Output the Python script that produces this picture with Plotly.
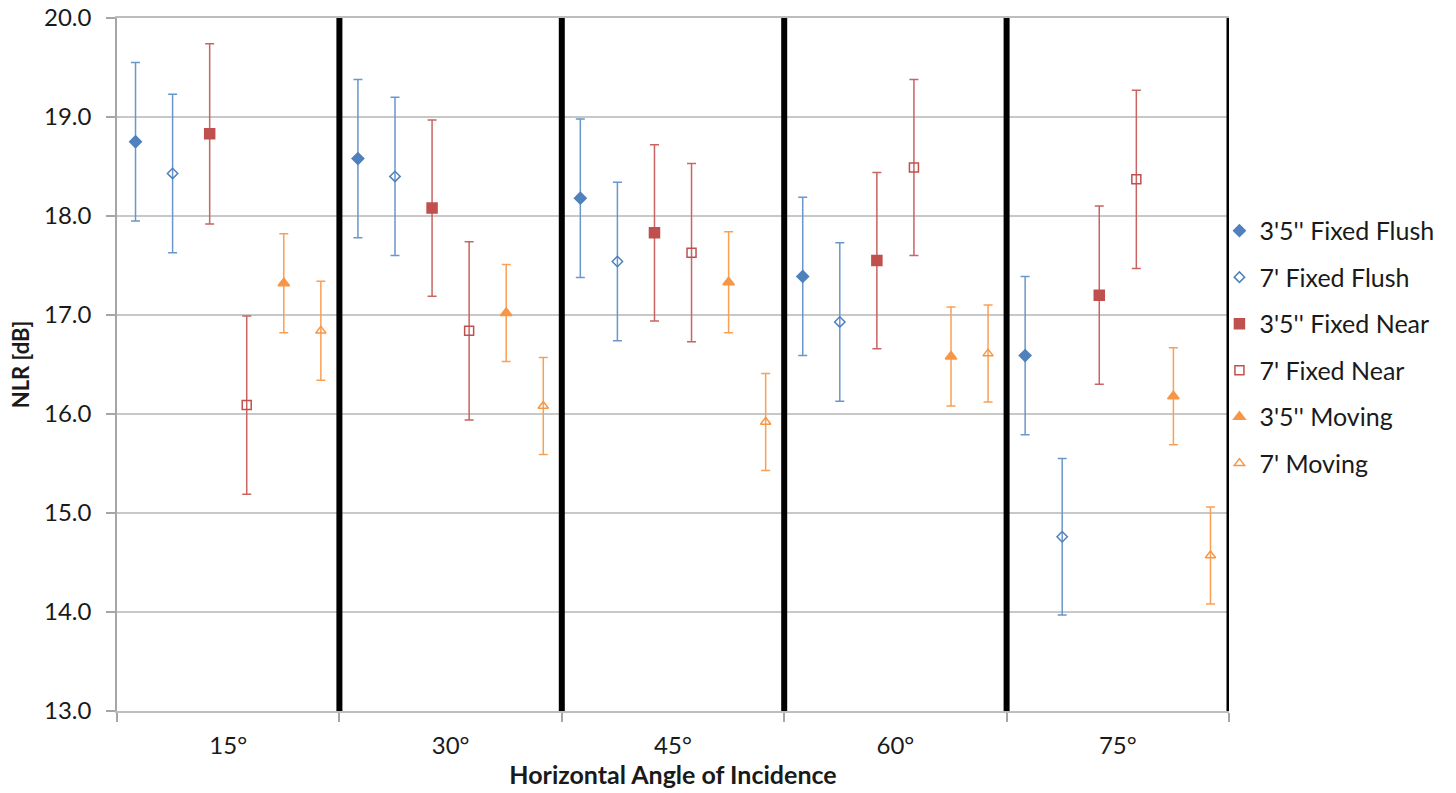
import plotly.graph_objects as go

categories = ["15°", "30°", "45°", "60°", "75°"]
series_names = ["3'5'' Fixed Flush", "7' Fixed Flush", "3'5'' Fixed Near",
                "7' Fixed Near", "3'5'' Moving", "7' Moving"]

ff35 = [18.75, 18.58, 18.18, 17.39, 16.59]
ff35_err = [0.80, 0.80, 0.80, 0.80, 0.80]
ff7 = [18.43, 18.40, 17.54, 16.93, 14.76]
ff7_err = [0.80, 0.80, 0.80, 0.80, 0.79]
fn35 = [18.83, 18.08, 17.83, 17.55, 17.20]
fn35_err = [0.91, 0.89, 0.89, 0.89, 0.90]
fn7 = [16.09, 16.84, 17.63, 18.49, 18.37]
fn7_err = [0.90, 0.90, 0.90, 0.89, 0.90]
m35 = [17.32, 17.02, 17.33, 16.58, 16.18]
m35_err = [0.50, 0.49, 0.51, 0.50, 0.49]
m7 = [16.84, 16.08, 15.92, 16.61, 14.57]
m7_err = [0.50, 0.49, 0.49, 0.49, 0.49]

values = [ff35, ff7, fn35, fn7, m35, m7]
errors = [ff35_err, ff7_err, fn35_err, fn7_err, m35_err, m7_err]

blue = "#4F81BD"
red = "#C0504D"
orange = "#F79646"
colors = [blue, blue, red, red, orange, orange]
err_colors = ["#6A96CC", "#6A96CC", "#C96460", "#C96460", "#F9A055", "#F9A055"]
symbols = ["diamond", "diamond-open", "square", "square-open", "triangle-up", "triangle-up-open"]
sizes = [9, 8, 10, 9, 10, 9]

FONT = "Lato, Carlito, Calibri, 'Open Sans', sans-serif"
TXT = "#1a1a1a"

fig = go.Figure()
n = len(series_names)
for k in range(n):
    xs = [g + (k + 0.5) / n for g in range(len(categories))]
    fig.add_trace(go.Scatter(
        x=xs, y=values[k], mode="markers", name=series_names[k],
        legendgroup=series_names[k],
        marker=dict(symbol=symbols[k], size=sizes[k], color=colors[k],
                    line=dict(color=colors[k], width=1.5)),
        error_y=dict(type="data", array=errors[k], visible=True,
                     color=err_colors[k], thickness=1.5, width=4.5),
    ))

shapes = []
for g in range(1, len(categories) + 1):
    shapes.append(dict(type="line", xref="x", yref="y", x0=g, x1=g, y0=13, y1=20,
                       line=dict(color="black", width=6 if g < len(categories) else 5),
                       layer="above"))

fig.update_layout(
    width=1456, height=793,
    margin=dict(l=117, r=227, t=18, b=82, autoexpand=False),
    paper_bgcolor="white", plot_bgcolor="white",
    font=dict(family=FONT, size=24, color=TXT),
    shapes=shapes,
    showlegend=True,
    legend=dict(x=0.9914, y=0.726, xanchor="left", yanchor="top",
                font=dict(family=FONT, size=25, color=TXT),
                tracegroupgap=11, itemwidth=30, bgcolor="rgba(0,0,0,0)"),
    xaxis=dict(range=[0, 5], tickvals=[g + 0.5 for g in range(len(categories))],
               ticktext=categories, ticks="", showgrid=False, zeroline=False,
               showline=True, mirror=True, linecolor="#BDBDBD", linewidth=1.5,
               automargin=False, ticklabelstandoff=12,
               tickfont=dict(family=FONT, size=24, color=TXT),
               minor=dict(tickvals=list(range(len(categories) + 1)), ticks="outside",
                          ticklen=9, tickcolor="#A6A6A6", tickwidth=1.5, showgrid=False),
               title=dict(text="<b>Horizontal Angle of Incidence</b>", standoff=4,
                          font=dict(family=FONT, size=25, color=TXT))),
    yaxis=dict(range=[13, 20], dtick=1, tickformat=".1f", showgrid=True,
               gridcolor="#C8C8C8", gridwidth=1.5, zeroline=False,
               showline=True, linecolor="#A6A6A6", linewidth=1.5, automargin=False,
               ticks="outside", ticklen=9, tickcolor="#A6A6A6", tickwidth=1.5,
               ticklabelstandoff=10, ticklabeloverflow="allow",
               tickfont=dict(family=FONT, size=24, color=TXT),
               title=dict(text="<b>NLR [dB]</b>", standoff=8,
                          font=dict(family=FONT, size=22, color=TXT))),
)

fig.write_html("out.html", config={"displayModeBar": False},
               post_script="document.body.style.margin='0';")
